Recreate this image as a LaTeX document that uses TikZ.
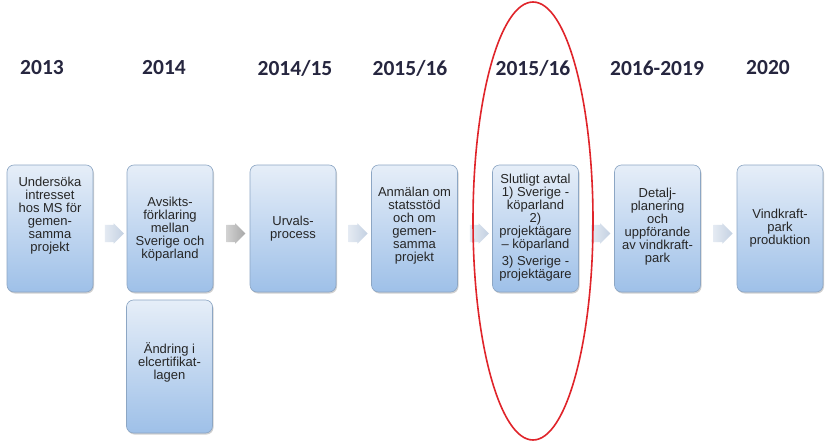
\documentclass[tikz,border=0pt]{standalone}
\usepackage{fontspec}
\setmainfont{Liberation Sans}
\newfontfamily\yearfont{Carlito}
\usetikzlibrary{shapes.arrows,shapes.geometric,shadows,calc}
\definecolor{yearc}{HTML}{26263F}
\definecolor{boxtop}{HTML}{E6EEF8}
\definecolor{boxbot}{HTML}{9EC0E8}
\definecolor{boxborder}{HTML}{8CA6C4}
\definecolor{chevl}{HTML}{E4EAF2}
\definecolor{chevr}{HTML}{C4D1E2}
\definecolor{chevgl}{HTML}{D2D2D2}
\definecolor{chevgr}{HTML}{A8A8A8}
\definecolor{ringred}{HTML}{E0242A}
\begin{document}
\begin{tikzpicture}[x=1pt,y=-1pt,
  box/.style={draw=boxborder, line width=0.6pt, rounded corners=7pt,
    top color=boxtop, bottom color=boxbot, minimum width=86pt,
    minimum height=127pt, inner sep=0pt,
    drop shadow={shadow xshift=1pt, shadow yshift=-1.5pt, opacity=0.3, fill=black!60}},
  txt/.style={align=center, inner sep=0pt, text=black!85,
    font=\fontsize{13}{13}\selectfont},
  year/.style={font=\yearfont\bfseries\fontsize{21.5}{24}\selectfont, text=yearc},
  chev/.style={single arrow, single arrow head extend=1.5pt, inner xsep=0pt,
    inner ysep=8.5pt, minimum height=19pt, draw=none,
    left color=chevl, right color=chevr},
  chevgray/.style={chev, left color=chevgl, right color=chevgr},
  ring/.style={draw=ringred, line width=1.6pt, ellipse, minimum width=120pt,
    minimum height=438pt, inner sep=0pt}
]
\useasboundingbox[fill=white] (0,0) rectangle (829,444);

% years
\node[year] (y1) at (42,68) {2013};
\node[year] (y2) at (164,68) {2014};
\node[year] (y3) at (295,68) {2014/15};
\node[year] (y4) at (410,68) {2015/16};
\node[year] (y5) at (533,68) {2015/16};
\node[year] (y6) at (657,68) {2016-2019};
\node[year] (y7) at (768,68) {2020};

% boxes
\node[box] (b1) at (50,228.5) {};
\node[box] (b2) at (170,228.5) {};
\node[box] (b3) at (293,228.5) {};
\node[box] (b4) at (414.5,228.5) {};
\node[box] (b5) at (535.5,228.5) {};
\node[box] (b6) at (657.5,228.5) {};
\node[box] (b7) at (780,228.5) {};
\node[box, minimum height=133pt] (b8) at (169.5,366.5) {};

% texts
\node[txt] (t1) at (50,216) {Undersöka\\intresset\\hos MS för\\gemen-\\samma\\projekt};
\node[txt] (t2) at (170,229) {Avsikts-\\förklaring\\mellan\\Sverige och\\köparland};
\node[txt] (t3) at (293,229) {Urvals-\\process};
\node[txt] (t4) at (414.5,226) {Anmälan om\\statsstöd\\och om\\gemen-\\samma\\projekt};
\node[txt] (t5) at (535.5,228) {Slutligt avtal\\1) Sverige -\\köparland\\2)\\projektägare\\– köparland\\[4pt]3) Sverige -\\projektägare};
\node[txt] (t6) at (657.5,227) {Detalj-\\planering\\och\\uppförande\\av vindkraft-\\park};
\node[txt] (t7) at (780,228) {Vindkraft-\\park\\produktion};
\node[txt] (t8) at (169.5,362) {Ändring i\\elcertifikat-\\lagen};

% chevrons
\node[chev] (a1) at ($(b1.east)!0.5!(b2.west)+(0,5)$) {};
\node[chevgray] (a2) at ($(b2.east)!0.5!(b3.west)+(0,5)$) {};
\node[chev] (a3) at ($(b3.east)!0.5!(b4.west)+(0,5)$) {};
\node[chev] (a4) at ($(b4.east)!0.5!(b5.west)+(0,5)$) {};
\node[chev] (a5) at ($(b5.east)!0.5!(b6.west)+(0,5)$) {};
\node[chev] (a6) at ($(b6.east)!0.5!(b7.west)+(0,5)$) {};

% highlight ring
\node[ring] (hl) at (533,221) {};
\end{tikzpicture}
\end{document}
